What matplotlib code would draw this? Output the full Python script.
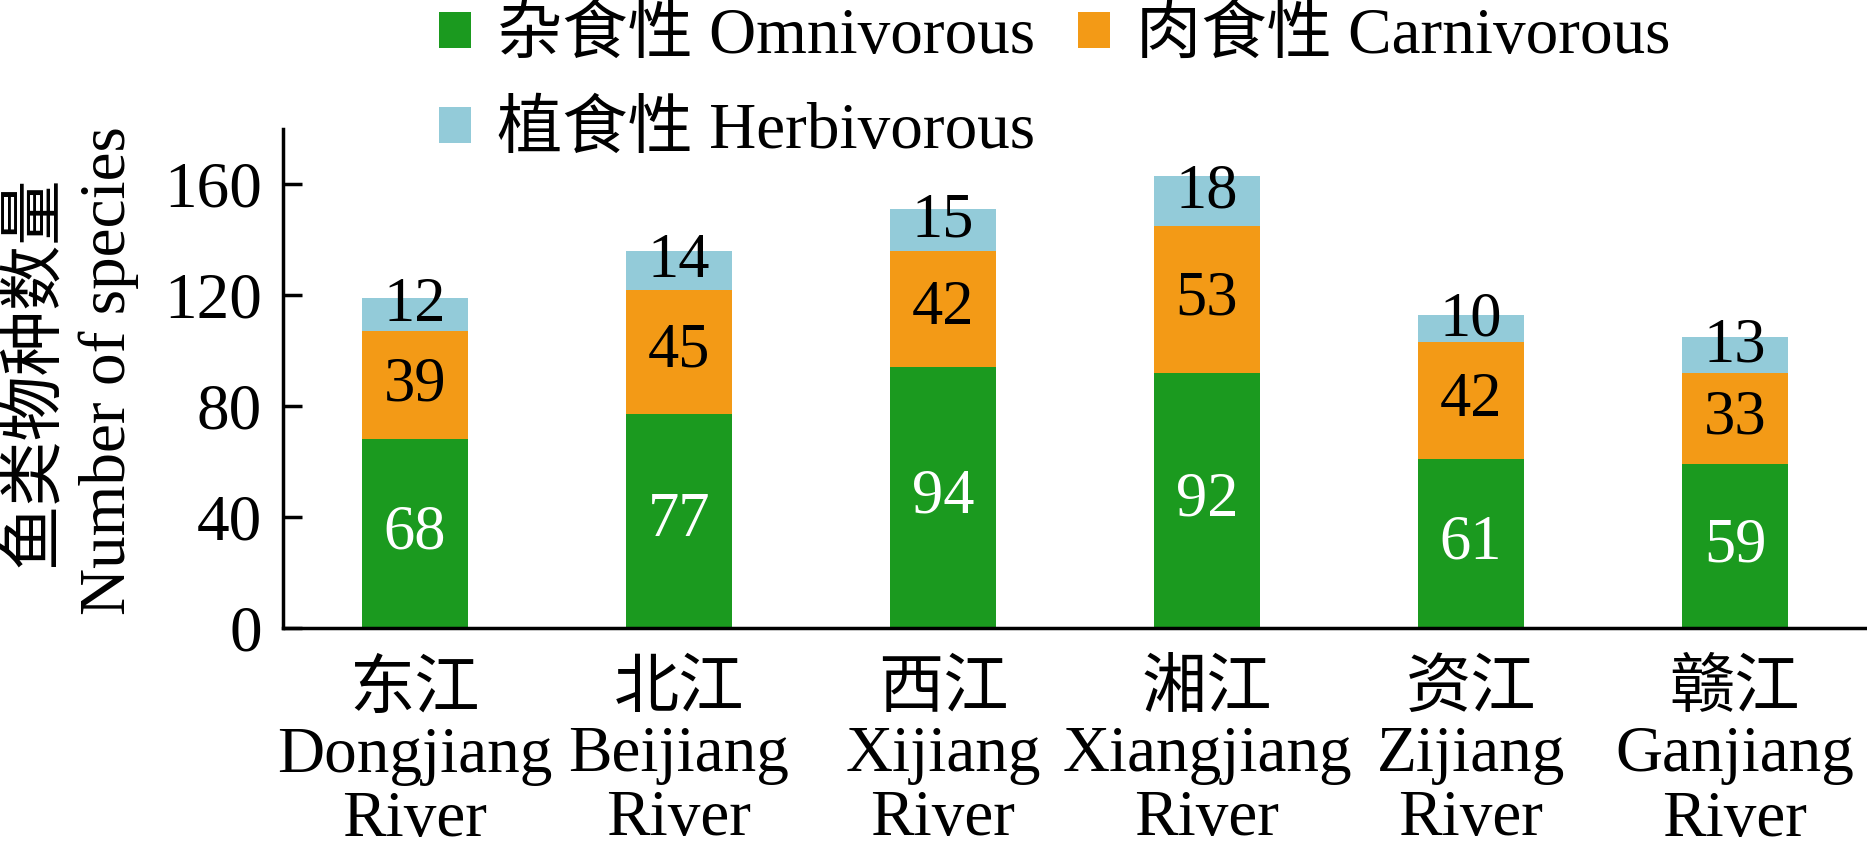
import numpy as np
import matplotlib.pyplot as plt

# 各河流鱼类物种数量
rivers = ['东江\nDongjiang\nRiver', '北江\nBeijiang\nRiver', '西江\nXijiang\nRiver',
          '湘江\nXiangjiang\nRiver', '资江\nZijiang\nRiver', '赣江\nGanjiang\nRiver']
omnivorous = np.array([68, 77, 94, 92, 61, 59])
carnivorous = np.array([39, 45, 42, 53, 42, 33])
herbivorous = np.array([12, 14, 15, 18, 10, 13])

labels = ['杂食性 Omnivorous', '肉食性 Carnivorous', '植食性 Herbivorous']
colors = ['#1b9a1f', '#f39a16', '#93cbd9']

plt.rcParams['font.family'] = ['Liberation Serif', 'Noto Sans CJK SC']
plt.rcParams['font.size'] = 47

fig = plt.figure(figsize=(18.67, 8.57), dpi=100)
ax = fig.add_axes([0.1516, 0.2672, 0.8484, 0.5827])

x = np.arange(len(rivers))
w = 0.4
b1 = ax.bar(x, omnivorous, w, color=colors[0], label=labels[0])
b2 = ax.bar(x, carnivorous, w, bottom=omnivorous, color=colors[1], label=labels[1])
b3 = ax.bar(x, herbivorous, w, bottom=omnivorous + carnivorous, color=colors[2], label=labels[2])

# 数值标注
for i in range(len(x)):
    ax.text(x[i], omnivorous[i] / 2, str(omnivorous[i]), ha='center', va='center',
            color='white', fontsize=45)
    ax.text(x[i], omnivorous[i] + carnivorous[i] / 2, str(carnivorous[i]), ha='center',
            va='center', color='black', fontsize=45)
    ax.text(x[i], omnivorous[i] + carnivorous[i] + herbivorous[i] / 2 + 3, str(herbivorous[i]),
            ha='center', va='center', color='black', fontsize=45)

ax.set_xlim(-0.5, 5.5)
ax.set_ylim(0, 180)
ax.set_yticks([0, 40, 80, 120, 160])
ax.set_xticks(x)
ax.set_xticklabels(rivers, linespacing=1.1)
ax.spines['top'].set_visible(False)
ax.spines['right'].set_visible(False)
ax.spines['left'].set_linewidth(2.5)
ax.spines['bottom'].set_linewidth(2.5)
ax.tick_params(axis='y', direction='in', length=14, width=2.5, pad=15)
ax.tick_params(axis='x', length=0, pad=24)

fig.text(35 / 1867, 1 - 371 / 857, '鱼类物种数量', rotation=90, ha='center', va='center')
fig.text(109 / 1867, 1 - 371 / 857, 'Number of species', rotation=90, ha='center', va='center')

fig.legend([b1, b3, b2], [labels[0], labels[2], labels[1]], ncol=2, frameon=False,
           loc='upper left', bbox_to_anchor=(439 / 1867, 0.992), borderpad=0, borderaxespad=0,
           handlelength=0.49, handleheight=0.49, handletextpad=0.4, columnspacing=0.65,
           labelspacing=0.53)

fig.savefig('out.png', dpi=100)
